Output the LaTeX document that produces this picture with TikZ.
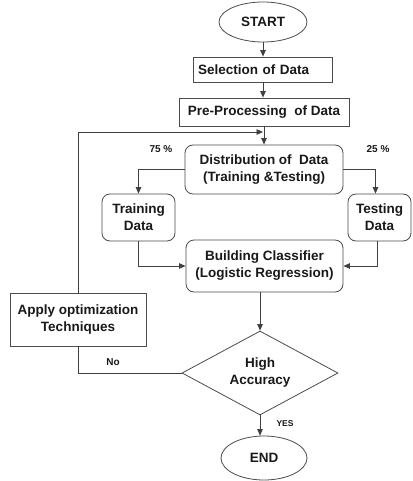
\documentclass[tikz,border=0pt]{standalone}
\usepackage{fontspec}
\setmainfont{Liberation Sans}
\usetikzlibrary{shapes.geometric,arrows.meta}
\begin{document}
\begin{tikzpicture}[x=1pt,y=-1pt,
  every node/.style={font=\fontsize{13.5}{17}\selectfont\bfseries, text=black!90, inner sep=0pt, align=center},
  box/.style={draw=black!70, line width=0.8pt},
  rbox/.style={box, rounded corners=8pt},
  oval/.style={box, ellipse},
  dia/.style={box, diamond},
  arr/.style={draw=black!75, line width=0.8pt, -{Triangle[length=6.5pt,width=5.5pt]}},
  ln/.style={draw=black!75, line width=0.8pt},
  lab/.style={font=\fontsize{10}{12}\selectfont\bfseries},
  smalllab/.style={font=\fontsize{8.5}{10}\selectfont\bfseries}]
\fill[white] (0,0) rectangle (412,481);
\useasboundingbox (0,0) rectangle (412,481);

\node[oval, minimum width=88pt, minimum height=40pt] (start) at (263,22) {START};
\node[box, minimum width=139pt, minimum height=25pt, text width=129pt, align=left, inner xsep=5pt] (sel) at (262.5,69.5) {Selection of Data};
\node[box, minimum width=170pt, minimum height=28pt] (pre) at (264,112) {Pre-Processing\ \ of Data};
\node[rbox, minimum width=158pt, minimum height=49pt] (dist) at (264,169.5) {Distribution of\ \ Data\\(Training \&Testing)};
\node[rbox, minimum width=73pt, minimum height=47pt] (train) at (138.5,217.5) {Training\\Data};
\node[rbox, minimum width=63pt, minimum height=47pt] (test) at (379.5,217.5) {Testing\\Data};
\node[rbox, minimum width=157pt, minimum height=52pt] (build) at (264.5,266) {Building Classifier\\(Logistic Regression)};
\node[box, minimum width=136pt, minimum height=53pt] (apply) at (78,319.5) {Apply optimization\\Techniques};
\node[dia, minimum width=156pt, minimum height=84pt, aspect=1.857] (dec) at (260,373) {High\\Accuracy};
\node[oval, minimum width=86pt, minimum height=44pt] (end) at (264,458) {END};

\coordinate (fb) at (263,132);

\draw[arr] (start.south) -- (start.south |- sel.north);
\draw[arr] (start.south |- sel.south) -- (start.south |- pre.north);
\draw[arr] (dist.north |- pre.south) -- (dist.north);
\draw[arr] (apply.north) |- (fb);
\draw[arr] (dist.west) -| (train.north);
\draw[arr] (dist.east) -| ([xshift=-4pt]test.north);
\draw[arr] (train.south) |- (build.west);
\draw[arr] ([xshift=-2pt]test.south) |- (build.east);
\draw[arr] (dec.north |- build.south) -- (dec.north);
\draw[ln] (apply.south) |- (dec.west);
\draw[arr] (dec.south) -- (dec.south |- end.north);

\node[lab] (p75) at (161,149) {75 \%};
\node[lab] (p25) at (378,149) {25 \%};
\node[lab] (no) at (113,362) {No};
\node[smalllab] (yes) at (285,424) {YES};
\end{tikzpicture}
\end{document}
